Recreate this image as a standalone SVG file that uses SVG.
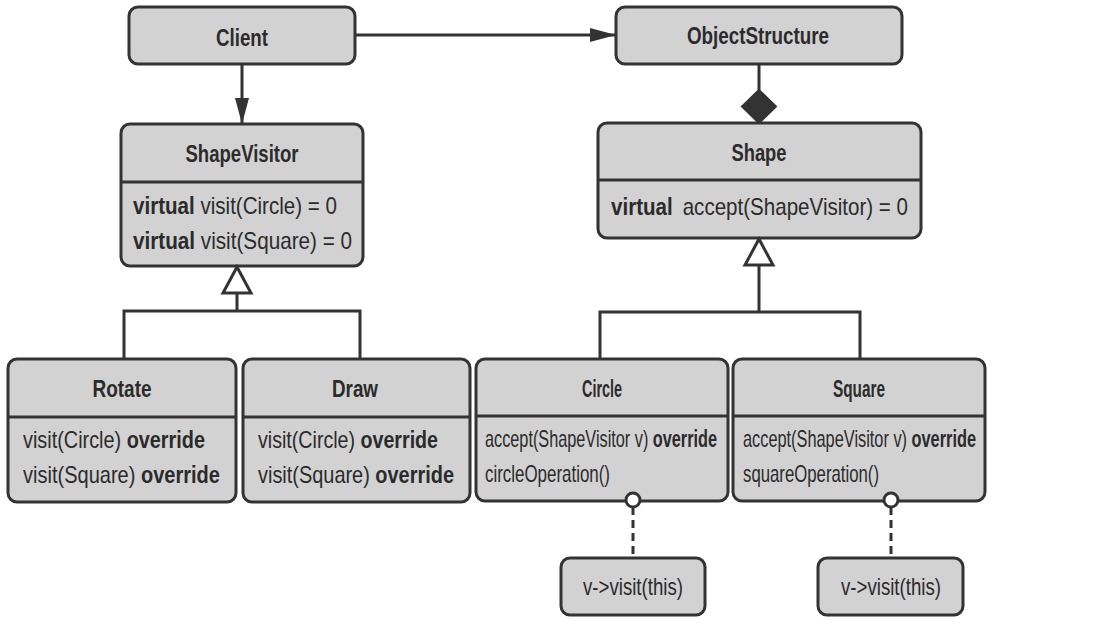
<svg xmlns="http://www.w3.org/2000/svg" width="1109" height="626" viewBox="0 0 1109 626">
<defs>
<style>
.box{fill:#d2d2d2;stroke:#333;stroke-width:3}
.div{stroke:#333;stroke-width:3}
.ln{stroke:#333;stroke-width:3;fill:none}
.dash{stroke:#333;stroke-width:3;fill:none;stroke-dasharray:8 5}
.hol{fill:#fff;stroke:#333;stroke-width:3}
.sol{fill:#333;stroke:#333;stroke-width:2}
text{font-family:"Liberation Sans Narrow","Liberation Sans",sans-serif;font-size:24px;fill:#2b2b2b}
.t{font-weight:bold;text-anchor:middle}
.b{font-weight:bold}
</style>
<marker id="arr" markerUnits="userSpaceOnUse" markerWidth="26" markerHeight="14" refX="26" refY="7" orient="auto">
<path d="M0,0 L26,7 L0,14 z" fill="#333"/>
</marker>
</defs>
<rect width="1109" height="626" fill="#fff"/>

<g id="client">
<rect class="box" x="129" y="7" width="226" height="57" rx="9"/>
<text class="t" x="242" y="46" textLength="52" lengthAdjust="spacingAndGlyphs">Client</text>
</g>

<g id="objectstructure">
<rect class="box" x="616" y="7" width="286" height="57" rx="9"/>
<text class="t" x="758" y="44" textLength="142" lengthAdjust="spacingAndGlyphs">ObjectStructure</text>
</g>

<g id="shapevisitor">
<rect class="box" x="121" y="124" width="242" height="142" rx="9"/>
<line class="div" x1="121" y1="182" x2="363" y2="182"/>
<text class="t" x="242" y="162" textLength="113" lengthAdjust="spacingAndGlyphs">ShapeVisitor</text>
<text x="133" y="214" textLength="204" lengthAdjust="spacingAndGlyphs"><tspan class="b">virtual</tspan> visit(Circle) = 0</text>
<text x="133" y="249" textLength="219" lengthAdjust="spacingAndGlyphs"><tspan class="b">virtual</tspan> visit(Square) = 0</text>
</g>

<g id="shape">
<rect class="box" x="598" y="123" width="323" height="115" rx="9"/>
<line class="div" x1="598" y1="180" x2="921" y2="180"/>
<text class="t" x="759" y="161" textLength="55" lengthAdjust="spacingAndGlyphs">Shape</text>
<text x="611" y="215" textLength="297" lengthAdjust="spacingAndGlyphs"><tspan class="b">virtual</tspan> <tspan dx="5">accept(ShapeVisitor) = 0</tspan></text>
</g>

<g id="rotate">
<rect class="box" x="8" y="359" width="228" height="143" rx="9"/>
<line class="div" x1="8" y1="417" x2="236" y2="417"/>
<text class="t" x="122" y="397" textLength="59" lengthAdjust="spacingAndGlyphs">Rotate</text>
<text x="23" y="448" textLength="182" lengthAdjust="spacingAndGlyphs">visit(Circle) <tspan class="b">override</tspan></text>
<text x="23" y="483" textLength="197" lengthAdjust="spacingAndGlyphs">visit(Square) <tspan class="b">override</tspan></text>
</g>

<g id="draw">
<rect class="box" x="243" y="359" width="227" height="143" rx="9"/>
<line class="div" x1="243" y1="417" x2="470" y2="417"/>
<text class="t" x="355" y="397" textLength="46" lengthAdjust="spacingAndGlyphs">Draw</text>
<text x="258" y="448" textLength="180" lengthAdjust="spacingAndGlyphs">visit(Circle) <tspan class="b">override</tspan></text>
<text x="258" y="483" textLength="196" lengthAdjust="spacingAndGlyphs">visit(Square) <tspan class="b">override</tspan></text>
</g>

<g id="circle">
<rect class="box" x="476" y="359" width="252" height="142" rx="9"/>
<line class="div" x1="476" y1="416" x2="728" y2="416"/>
<text class="t" x="602" y="397" textLength="40" lengthAdjust="spacingAndGlyphs">Circle</text>
<text x="485" y="447" textLength="232" lengthAdjust="spacingAndGlyphs">accept(ShapeVisitor v) <tspan class="b">override</tspan></text>
<text x="485" y="482" textLength="125" lengthAdjust="spacingAndGlyphs">circleOperation()</text>
</g>

<g id="square">
<rect class="box" x="733" y="359" width="252" height="142" rx="9"/>
<line class="div" x1="733" y1="416" x2="985" y2="416"/>
<text class="t" x="859" y="397" textLength="52" lengthAdjust="spacingAndGlyphs">Square</text>
<text x="743" y="447" textLength="233" lengthAdjust="spacingAndGlyphs">accept(ShapeVisitor v) <tspan class="b">override</tspan></text>
<text x="743" y="482" textLength="136" lengthAdjust="spacingAndGlyphs">squareOperation()</text>
</g>

<g id="note-circle">
<rect class="box" x="561" y="558" width="144" height="57" rx="9"/>
<text x="633" y="595" text-anchor="middle" textLength="100" lengthAdjust="spacingAndGlyphs">v-&gt;visit(this)</text>
</g>

<g id="note-square">
<rect class="box" x="818" y="558" width="145" height="57" rx="9"/>
<text x="891" y="595" text-anchor="middle" textLength="100" lengthAdjust="spacingAndGlyphs">v-&gt;visit(this)</text>
</g>

<g id="connectors">
<line class="ln" x1="355" y1="35" x2="616" y2="35" marker-end="url(#arr)"/>
<line class="ln" x1="242" y1="64" x2="242" y2="124" marker-end="url(#arr)"/>
<line class="ln" x1="759" y1="64" x2="759" y2="90"/>
<polygon class="sol" points="759,90 776,106.5 759,123 742,106.5"/>
<path class="ln" d="M237,293 V311 M124,359 V311 H360 V359"/>
<polygon class="hol" points="237,267 251,293 223,293"/>
<path class="ln" d="M759,265 V312 M600,359 V312 H860 V359"/>
<polygon class="hol" points="759,239 773,265 745,265"/>
<line class="dash" x1="633" y1="507" x2="633" y2="558"/>
<circle class="hol" cx="633" cy="500" r="7"/>
<line class="dash" x1="891" y1="507" x2="891" y2="558"/>
<circle class="hol" cx="891" cy="500" r="7"/>
</g>
</svg>
